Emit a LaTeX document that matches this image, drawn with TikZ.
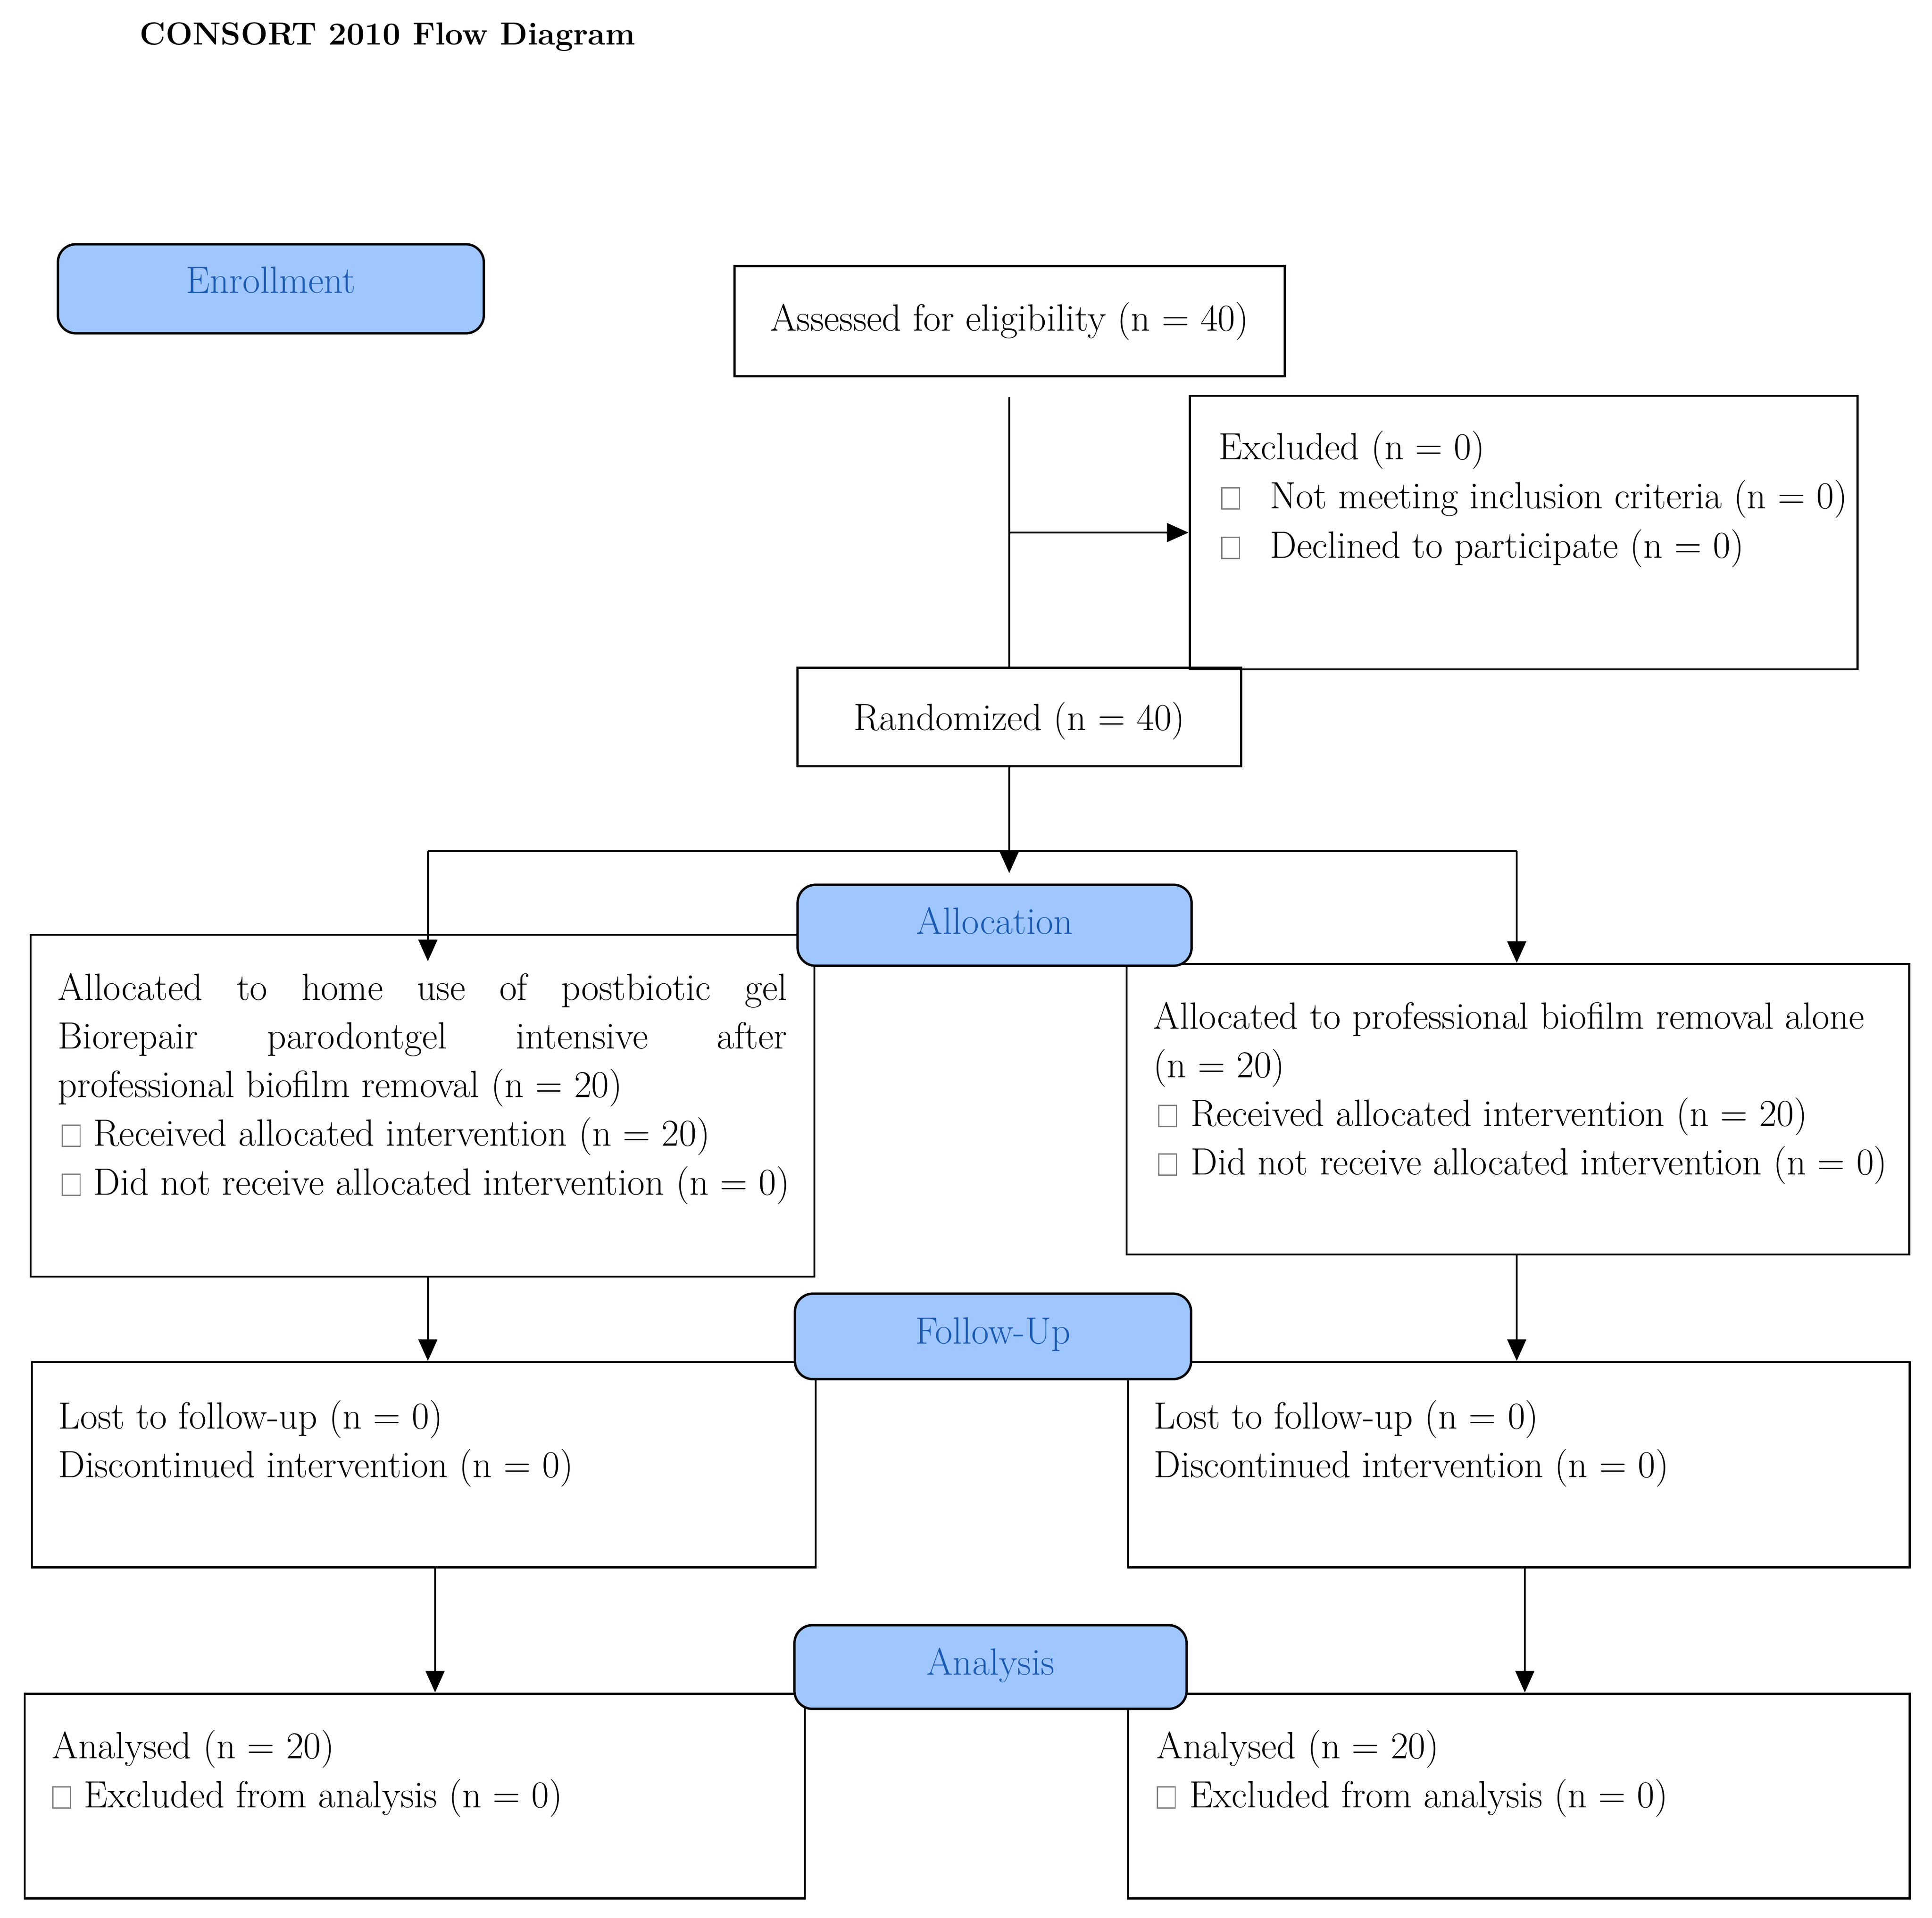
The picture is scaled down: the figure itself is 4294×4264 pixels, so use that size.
\documentclass[tikz,border=0pt]{standalone}
\usetikzlibrary{arrows.meta,fit}
\definecolor{hdrfill}{RGB}{160,198,254}
\definecolor{hdrtext}{RGB}{25,90,180}
\newcommand\sqbox{{\color{gray}\fboxsep=0pt\fboxrule=0.8pt\fbox{\rule{0pt}{0.44cm}\hspace{0.37cm}}}}
\begin{document}
\begin{tikzpicture}[x=0.01cm,y=-0.01cm,
  bx/.style={draw, line width=1.4pt, inner sep=0pt, font=\fontsize{24}{30}\selectfont},
  hdr/.style={draw, line width=1.5pt, rounded corners=0.4cm, fill=hdrfill, inner sep=0pt, text=hdrtext, font=\fontsize{24}{30}\selectfont, text depth=0.2cm},
  txt/.style={anchor=base west, inner sep=0pt, font=\fontsize{24}{30}\selectfont},
  ln/.style={line width=1.1pt},
  arr/.style={line width=1.1pt, -{Triangle[length=0.48cm,width=0.42cm]}}]
\useasboundingbox (0,0) rectangle (4294,4264);

% title
\node[anchor=base west, inner sep=0pt, font=\bfseries\fontsize{20.2}{25}\selectfont] (title) at (310,100) {CONSORT 2010 Flow Diagram};

% enrollment
\node[hdr, minimum width=9.46cm, minimum height=1.98cm, text depth=0.4cm] (enr) at (602,642) {Enrollment};
\node[bx, minimum width=12.22cm, minimum height=2.44cm] (assess) at (2244,714) {Assessed for eligibility (n = 40)};
\node[bx, fit={(2644,880) (4128,1488)}] (excl) {};
\node[txt] (ex1) at (2708,1021) {Excluded (n = 0)};
\node[txt] (ex2) at (2713,1130) {\sqbox\hspace{0.66cm}Not meeting inclusion criteria (n = 0)};
\node[txt] (ex3) at (2713,1240) {\sqbox\hspace{0.66cm}Declined to participate (n = 0)};
\node[bx, minimum width=9.85cm, minimum height=2.18cm, text height=0.8cm] (rand) at (2265.5,1594) {Randomized (n = 40)};

% allocation
\node[bx, fit={(68,2078) (1810,2838)}] (lalloc) {};
\node[txt] (la1) at (128,2223) {\makebox[16.2cm][s]{Allocated to home use of postbiotic gel}};
\node[txt] (la2) at (128,2331) {\makebox[16.2cm][s]{Biorepair parodontgel intensive after}};
\node[txt] (la3) at (128,2439) {professional biofilm removal (n = 20)};
\node[txt] (la4) at (136,2547) {\sqbox\hspace{0.28cm}Received allocated intervention (n = 20)};
\node[txt] (la5) at (136,2656) {\sqbox\hspace{0.28cm}Did not receive allocated intervention (n = 0)};

\node[bx, fit={(2504,2143) (4243,2789)}] (ralloc) {};
\node[txt] (ra1) at (2563,2287) {Allocated to professional biofilm removal alone};
\node[txt] (ra2) at (2563,2395) {(n = 20)};
\node[txt] (ra3) at (2573,2503) {\sqbox\hspace{0.3cm}Received allocated intervention (n = 20)};
\node[txt] (ra4) at (2573,2611) {\sqbox\hspace{0.3cm}Did not receive allocated intervention (n = 0)};

\node[hdr, minimum width=8.75cm, minimum height=1.8cm] (alloc) at (2210.5,2057) {Allocation};

% follow-up
\node[bx, fit={(71,3028) (1813,3484)}] (lfol) {};
\node[txt] (lf1) at (129,3176) {Lost to follow-up (n = 0)};
\node[txt] (lf2) at (129,3284) {Discontinued intervention (n = 0)};
\node[bx, fit={(2507,3028) (4244,3484)}] (rfol) {};
\node[txt] (rf1) at (2564,3176) {Lost to follow-up (n = 0)};
\node[txt] (rf2) at (2564,3284) {Discontinued intervention (n = 0)};
\node[hdr, minimum width=8.8cm, minimum height=1.9cm, text depth=0.25cm] (fol) at (2207,2971) {Follow-Up};

% analysis
\node[bx, fit={(55,3765) (1789,4220)}] (lana) {};
\node[txt] (ln1) at (115,3909) {Analysed (n = 20)};
\node[txt] (ln2) at (115,4018) {\sqbox\hspace{0.28cm}Excluded from analysis (n = 0)};
\node[bx, fit={(2507,3765) (4244,4220)}] (rana) {};
\node[txt] (rn1) at (2570,3909) {Analysed (n = 20)};
\node[txt] (rn2) at (2570,4018) {\sqbox\hspace{0.3cm}Excluded from analysis (n = 0)};
\node[hdr, minimum width=8.71cm, minimum height=1.86cm, text depth=0.25cm] (ana) at (2201.5,3706) {Analysis};

% connectors
\coordinate (tTop) at (2243,883);
\draw[ln] (tTop) -- (tTop |- rand.north);
\draw[arr] (tTop |- excl.west) -- (excl.west);
\coordinate (allocTip) at (2243,1941);
\draw[arr] (tTop |- rand.south) -- (allocTip);
\coordinate (splitL) at (951,1892);
\coordinate (splitR) at (3371,1892);
\draw[ln] (splitL) -- (splitR);
\coordinate (lTip) at (951,2137);
\draw[arr] (splitL) -- (lTip);
\draw[arr] (splitR) -- (splitR |- ralloc.north);
\coordinate (cL1) at (951,0);
\coordinate (cR1) at (3371,0);
\coordinate (cL2) at (967,0);
\coordinate (cR2) at (3389,0);
\draw[arr] (cL1 |- lalloc.south) -- (cL1 |- lfol.north);
\draw[arr] (cR1 |- ralloc.south) -- (cR1 |- rfol.north);
\draw[arr] (cL2 |- lfol.south) -- (cL2 |- lana.north);
\draw[arr] (cR2 |- rfol.south) -- (cR2 |- rana.north);
\end{tikzpicture}
\end{document}
